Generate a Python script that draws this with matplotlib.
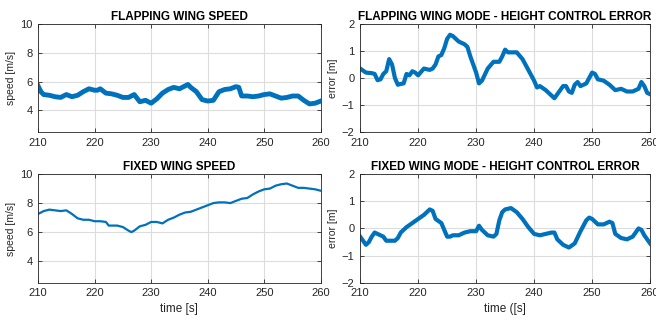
import matplotlib
matplotlib.use("Agg")
import matplotlib.pyplot as plt

plt.rcParams["font.family"] = ["Liberation Sans", "DejaVu Sans"]

BLUE = "#0072BD"

# flapping wing speed [m/s]
flap_t = [210, 210.5, 211, 212, 213, 214, 215, 216, 217, 218, 219, 220, 220.5, 221, 222, 223,
          224, 225, 226, 227, 228, 229, 230, 231, 232, 233, 234, 235, 236, 236.5, 237, 238,
          239, 240, 241, 242, 243, 244, 245, 245.5, 246, 247, 248, 249, 250, 251, 252, 253,
          254, 255, 256, 257, 258, 259, 260]
flap_speed = [5.7, 5.3, 5.1, 5.05, 4.95, 4.9, 5.1, 4.95, 5.05, 5.3, 5.5, 5.4, 5.4, 5.5, 5.2, 5.15,
              5.05, 4.9, 4.9, 5.1, 4.6, 4.7, 4.5, 4.8, 5.2, 5.45, 5.6, 5.5, 5.7, 5.8, 5.6, 5.3,
              4.75, 4.65, 4.7, 5.3, 5.45, 5.5, 5.65, 5.6, 5.0, 5.0, 4.95, 5.0, 5.1, 5.15, 5.0, 4.85,
              4.9, 5.0, 5.0, 4.7, 4.45, 4.5, 4.65]

# flapping wing height error [m]
flap_err_t = [210, 211, 212, 212.5, 213, 213.5, 214, 214.5, 215, 215.5, 216, 216.5, 217, 217.5,
              218, 218.5, 219, 219.5, 220, 221, 222, 222.5, 223, 223.5, 224, 224.5, 225, 225.5,
              226, 227, 228, 228.5, 229, 230, 230.5, 231, 232, 233, 234, 234.5, 235, 235.5, 236,
              237, 238, 239, 240, 240.5, 241, 242, 243, 243.5, 244, 245, 245.5, 246, 246.5, 247,
              247.5, 248, 249, 250, 250.5, 251, 252, 253, 254, 255, 255.5, 256, 257, 258, 258.5,
              259, 259.5, 260]
flap_err = [0.35, 0.2, 0.18, 0.15, -0.08, -0.05, 0.15, 0.25, 0.7, 0.5, 0.0, -0.25, -0.22, -0.2,
            0.15, 0.1, 0.25, 0.2, 0.1, 0.35, 0.3, 0.35, 0.5, 0.8, 0.85, 1.1, 1.45, 1.6,
            1.55, 1.35, 1.25, 1.15, 0.8, 0.2, -0.2, -0.1, 0.35, 0.6, 0.6, 0.8, 1.05, 0.95, 0.95,
            0.95, 0.7, 0.3, -0.1, -0.35, -0.3, -0.45, -0.65, -0.75, -0.6, -0.3, -0.3, -0.5, -0.55, -0.25,
            -0.15, -0.3, -0.2, 0.2, 0.15, -0.05, -0.1, -0.25, -0.45, -0.4, -0.45, -0.5, -0.5, -0.4, -0.15,
            -0.3, -0.55, -0.6]

# fixed wing speed [m/s]
fixed_t = [210, 211, 212, 213, 214, 215, 216, 217, 218, 219, 220, 221, 222, 222.5, 223, 224,
           225, 226, 226.5, 227, 228, 229, 230, 231, 232, 233, 234, 235, 236, 237, 238, 239,
           240, 241, 242, 243, 244, 245, 246, 247, 248, 249, 250, 251, 252, 253, 254, 255,
           256, 257, 258, 259, 260]
fixed_speed = [7.25, 7.45, 7.55, 7.5, 7.45, 7.5, 7.25, 6.95, 6.85, 6.85, 6.75, 6.75, 6.7, 6.45, 6.45, 6.45,
               6.35, 6.1, 6.0, 6.1, 6.4, 6.5, 6.7, 6.7, 6.6, 6.85, 7.0, 7.2, 7.35, 7.4, 7.55, 7.7,
               7.85, 8.0, 8.05, 8.05, 8.0, 8.15, 8.3, 8.35, 8.6, 8.8, 8.95, 9.0, 9.2, 9.3, 9.35, 9.2,
               9.05, 9.05, 9.0, 8.95, 8.85]

# fixed wing height error [m]
fixed_err_t = [210, 211, 211.5, 212, 212.5, 213, 214, 214.5, 215, 216, 216.5, 217, 218, 219, 220,
               221, 222, 222.5, 223, 224, 225, 225.5, 226, 227, 228, 229, 230, 230.5, 231, 232,
               233, 233.5, 234, 234.5, 235, 236, 237, 238, 239, 240, 241, 242, 243, 243.5, 244,
               245, 246, 247, 248, 249, 249.5, 250, 251, 252, 253, 253.5, 254, 255, 256, 257,
               258, 258.5, 259, 260]
fixed_err = [-0.3, -0.6, -0.5, -0.3, -0.15, -0.2, -0.3, -0.45, -0.45, -0.45, -0.35, -0.15, 0.05, 0.2, 0.35,
             0.5, 0.7, 0.65, 0.35, 0.2, -0.3, -0.3, -0.25, -0.25, -0.15, -0.1, -0.1, 0.1, -0.05, -0.25,
             -0.3, -0.2, 0.3, 0.6, 0.7, 0.75, 0.6, 0.35, 0.05, -0.2, -0.25, -0.2, -0.15, -0.15, -0.4,
             -0.6, -0.7, -0.55, -0.1, 0.3, 0.4, 0.35, 0.15, 0.15, 0.25, 0.2, -0.2, -0.35, -0.4, -0.3,
             0.0, -0.05, -0.25, -0.55]


def style_axes(ax, title, ylabel, ylim, yticks, xlabel=None):
    ax.set_xlim(210, 260)
    ax.set_ylim(*ylim)
    ax.set_xticks([210, 220, 230, 240, 250, 260])
    ax.set_yticks(yticks)
    ax.grid(True, color="#dcdcdc", linewidth=0.8)
    ax.set_axisbelow(True)
    ax.set_title(title, fontsize=8.5, fontweight="bold", pad=3)
    ax.set_ylabel(ylabel, fontsize=7.5, color="#262626", labelpad=3)
    if xlabel:
        ax.set_xlabel(xlabel, fontsize=8.5, color="#262626", labelpad=3)
    ax.tick_params(labelsize=8, colors="#262626", direction="in", length=3, width=0.6,
                   top=True, right=True, pad=4)
    for s in ax.spines.values():
        s.set_linewidth(0.6)
        s.set_color("#262626")


fig = plt.figure(figsize=(6.56, 3.2), dpi=100)
ax1 = fig.add_axes([0.058, 0.5875, 0.431, 0.3375])
ax2 = fig.add_axes([0.549, 0.5875, 0.442, 0.3375])
ax3 = fig.add_axes([0.058, 0.116, 0.431, 0.34])
ax4 = fig.add_axes([0.549, 0.116, 0.442, 0.34])

ax1.plot(flap_t, flap_speed, color=BLUE, linewidth=3.5, solid_joinstyle="round")
style_axes(ax1, "FLAPPING WING SPEED", "speed [m/s]", (2.5, 10), [4, 6, 8, 10])

ax2.plot(flap_err_t, flap_err, color=BLUE, linewidth=3, solid_joinstyle="round")
style_axes(ax2, "FLAPPING WING MODE - HEIGHT CONTROL ERROR", "error [m]", (-2, 2), [-2, -1, 0, 1, 2])

ax3.plot(fixed_t, fixed_speed, color=BLUE, linewidth=1.6)
style_axes(ax3, "FIXED WING SPEED", "speed [m/s]", (2.5, 10), [4, 6, 8, 10], xlabel="time [s]")

ax4.plot(fixed_err_t, fixed_err, color=BLUE, linewidth=3, solid_joinstyle="round")
style_axes(ax4, "FIXED WING MODE - HEIGHT CONTROL ERROR", "error [m]", (-2, 2), [-2, -1, 0, 1, 2],
           xlabel="time ([s]")

fig.savefig("out.png", dpi=100)
